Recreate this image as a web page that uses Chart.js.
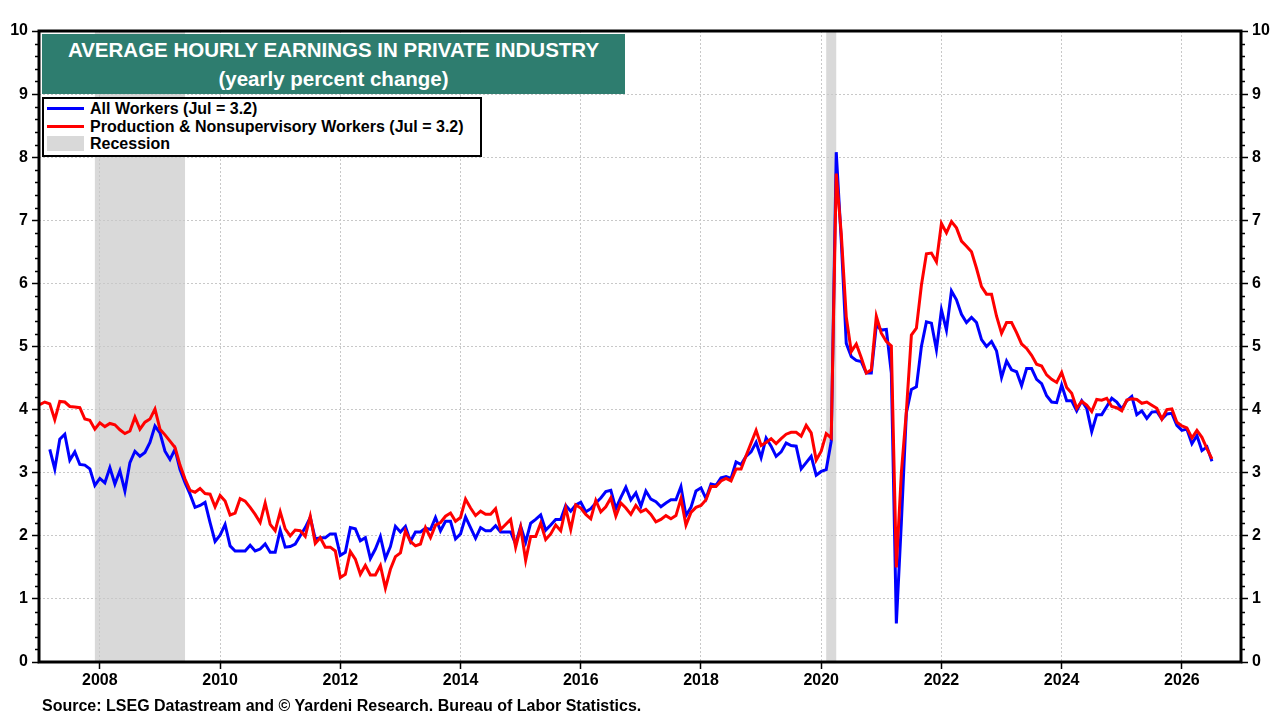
<!DOCTYPE html>
<html>
<head>
<meta charset="utf-8">
<script src="https://cdn.jsdelivr.net/npm/chart.js@4.4.1/dist/chart.umd.min.js"></script>
<style>
  html, body { margin: 0; padding: 0; background: #fff; }
  #wrap { position: relative; width: 1280px; height: 720px; font-family: 'Liberation Sans', Arial, sans-serif; }
  #chart { position: absolute; left: 0; top: 0; }
  .title { position: absolute; left: 42px; top: 34px; width: 583px; height: 60px; box-sizing: border-box;
    padding-top: 1px; background: #2e7d6f; color: #fff; font-weight: bold; font-size: 20.5px;
    line-height: 29px; text-align: center; }
  .legend { position: absolute; left: 42px; top: 97px; width: 440px; height: 60px; box-sizing: border-box;
    padding-top: 1px; background: #fff; border: 2px solid #000; font-weight: bold; font-size: 16px; color: #000; }
  .legend .row { position: relative; height: 17.5px; line-height: 17.5px; padding-left: 46px; white-space: nowrap; }
  .legend .line { position: absolute; left: 3px; top: 7px; width: 37px; height: 3px; }
  .legend .box { position: absolute; left: 3px; top: 1px; width: 37px; height: 15px; background: #d9d9d9; }
  .source { position: absolute; left: 42px; top: 697px; font-weight: bold; font-size: 16px; line-height: 18px; color: #000; white-space: nowrap; }
</style>
</head>
<body>
<div id="wrap">
  <canvas id="chart" width="1280" height="720"></canvas>
  <div class="title">AVERAGE HOURLY EARNINGS IN PRIVATE INDUSTRY<br>(yearly percent change)</div>
  <div class="legend">
    <div class="row"><span class="line" style="background:#0000ff"></span>All Workers (Jul = 3.2)</div>
    <div class="row"><span class="line" style="background:#ff0000"></span>Production &amp; Nonsupervisory Workers (Jul = 3.2)</div>
    <div class="row"><span class="box"></span>Recession</div>
  </div>
  <div class="source">Source: LSEG Datastream and © Yardeni Research. Bureau of Labor Statistics.</div>
</div>
<script>
// monthly data, Jan 2007 .. Jul 2026
const startYear = 2007;

const allWorkers = [
  null, null, 3.37, 3.06, 3.53, 3.61, 3.20, 3.33, 3.13, 3.12, 3.06, 2.80,
  2.91, 2.84, 3.08, 2.82, 3.03, 2.71, 3.16, 3.34, 3.26, 3.32, 3.48, 3.74,
  3.63, 3.34, 3.21, 3.37, 3.05, 2.84, 2.66, 2.45, 2.48, 2.53, 2.21, 1.91,
  2.01, 2.18, 1.84, 1.76, 1.76, 1.76, 1.85, 1.76, 1.79, 1.87, 1.74, 1.74,
  2.09, 1.82, 1.83, 1.87, 2.00, 2.13, 2.29, 1.95, 1.97, 1.97, 2.03, 2.03,
  1.69, 1.74, 2.13, 2.11, 1.92, 1.97, 1.64, 1.79, 1.99, 1.64, 1.83, 2.15,
  2.06, 2.15, 1.91, 2.06, 2.06, 2.12, 2.10, 2.29, 2.08, 2.23, 2.23, 1.95,
  2.03, 2.30, 2.13, 1.96, 2.13, 2.08, 2.08, 2.16, 2.06, 2.06, 2.06, 1.87,
  2.15, 1.90, 2.20, 2.26, 2.33, 2.09, 2.17, 2.26, 2.26, 2.48, 2.39, 2.49,
  2.53, 2.38, 2.43, 2.52, 2.60, 2.70, 2.72, 2.43, 2.61, 2.77, 2.57, 2.68,
  2.47, 2.71, 2.58, 2.54, 2.46, 2.52, 2.57, 2.57, 2.78, 2.32, 2.45, 2.71,
  2.76, 2.59, 2.82, 2.80, 2.92, 2.94, 2.91, 3.17, 3.13, 3.26, 3.33, 3.48,
  3.24, 3.55, 3.42, 3.26, 3.33, 3.47, 3.43, 3.42, 3.06, 3.16, 3.26, 2.96,
  3.02, 3.05, 3.50, 8.08, 6.68, 5.05, 4.84, 4.78, 4.76, 4.58, 4.58, 5.34,
  5.26, 5.27, 4.58, 0.61, 2.21, 3.95, 4.32, 4.36, 5.00, 5.39, 5.37, 4.95,
  5.58, 5.26, 5.88, 5.74, 5.51, 5.38, 5.46, 5.38, 5.11, 5.00, 5.08, 4.93,
  4.51, 4.77, 4.63, 4.60, 4.38, 4.65, 4.65, 4.48, 4.41, 4.22, 4.12, 4.11,
  4.39, 4.14, 4.14, 3.98, 4.14, 4.02, 3.65, 3.92, 3.92, 4.05, 4.18, 4.12,
  4.01, 4.14, 4.21, 3.92, 3.98, 3.86, 3.96, 3.97, 3.85, 3.93, 3.94, 3.75,
  3.67, 3.69, 3.46, 3.59, 3.35, 3.41, 3.18
];

const prodWorkers = [
  4.08, 4.12, 4.09, 3.84, 4.13, 4.12, 4.05, 4.04, 4.03, 3.85, 3.83, 3.69,
  3.79, 3.73, 3.78, 3.76, 3.68, 3.62, 3.66, 3.88, 3.69, 3.80, 3.85, 4.01,
  3.69, 3.60, 3.50, 3.40, 3.12, 2.90, 2.72, 2.69, 2.75, 2.67, 2.66, 2.46,
  2.64, 2.55, 2.33, 2.36, 2.59, 2.55, 2.45, 2.34, 2.21, 2.52, 2.18, 2.08,
  2.38, 2.11, 2.00, 2.09, 2.08, 1.99, 2.31, 1.88, 1.97, 1.82, 1.82, 1.76,
  1.34, 1.39, 1.75, 1.63, 1.39, 1.53, 1.38, 1.38, 1.53, 1.17, 1.47, 1.67,
  1.73, 2.08, 1.91, 1.84, 1.87, 2.13, 1.97, 2.17, 2.21, 2.31, 2.36, 2.23,
  2.29, 2.58, 2.44, 2.32, 2.39, 2.34, 2.34, 2.43, 2.10, 2.18, 2.26, 1.82,
  2.13, 1.61, 1.99, 1.99, 2.20, 1.94, 2.03, 2.17, 2.08, 2.44, 2.10, 2.49,
  2.44, 2.34, 2.27, 2.56, 2.38, 2.46, 2.60, 2.31, 2.52, 2.44, 2.34, 2.48,
  2.38, 2.42, 2.34, 2.22, 2.26, 2.32, 2.27, 2.32, 2.59, 2.17, 2.37, 2.45,
  2.48, 2.57, 2.78, 2.78, 2.87, 2.91, 2.87, 3.06, 3.06, 3.27, 3.47, 3.67,
  3.43, 3.48, 3.54, 3.46, 3.54, 3.61, 3.64, 3.64, 3.58, 3.75, 3.63, 3.20,
  3.34, 3.62, 3.55, 7.74, 6.79, 5.47, 4.92, 5.04, 4.82, 4.58, 4.63, 5.48,
  5.21, 5.08, 5.01, 1.50, 3.00, 3.97, 5.18, 5.29, 5.97, 6.47, 6.48, 6.34,
  6.95, 6.80, 6.98, 6.88, 6.67, 6.59, 6.50, 6.24, 5.95, 5.83, 5.83, 5.48,
  5.21, 5.38, 5.38, 5.22, 5.04, 4.97, 4.86, 4.72, 4.69, 4.55, 4.48, 4.43,
  4.59, 4.35, 4.26, 4.02, 4.13, 4.07, 3.97, 4.16, 4.15, 4.18, 4.05, 4.03,
  3.98, 4.15, 4.17, 4.16, 4.10, 4.12, 4.07, 4.02, 3.85, 4.00, 4.01, 3.80,
  3.74, 3.71, 3.55, 3.67, 3.56, 3.38, 3.22
];

const yearTicks = ['2008', '2010', '2012', '2014', '2016', '2018', '2020', '2022', '2024', '2026'];
const yTicks = [0, 1, 2, 3, 4, 5, 6, 7, 8, 9, 10];

// NBER recessions (first and last month)
const recessionStart = ['2007-12', '2020-02'];
const recessionEnd = ['2009-06', '2020-04'];

// month string -> month index since Jan of startYear
function monthIndex(s) {
  const [y, m] = s.split('-').map(Number);
  return (y - startYear) * 12 + (m - 1);
}

Chart.defaults.font.family = "'Liberation Sans', Arial, sans-serif";
Chart.defaults.color = '#000';

// grey shading behind everything
const recessionPlugin = {
  id: 'recessionPlugin',
  beforeDraw: function(chart) {
    const ctx = chart.ctx;
    const area = chart.chartArea;
    const x = chart.scales.x;
    ctx.save();
    ctx.fillStyle = '#d9d9d9';
    recessionStart.forEach(function(s, i) {
      const x1 = x.getPixelForValue(monthIndex(s));
      const x2 = x.getPixelForValue(monthIndex(recessionEnd[i]));
      ctx.fillRect(x1, area.top, x2 - x1, area.bottom - area.top);
    });
    ctx.restore();
  }
};

// thick black frame + short minor ticks on both value axes
const framePlugin = {
  id: 'framePlugin',
  afterDatasetsDraw: function(chart) {
    const ctx = chart.ctx;
    const a = chart.chartArea;
    const y = chart.scales.y;
    ctx.save();
    ctx.strokeStyle = '#000';
    ctx.lineWidth = 1.5;
    ctx.beginPath();
    for (let v = 0.2; v < 10; v += 0.2) {
      if (Math.abs(v - Math.round(v)) < 1e-6) continue;
      const py = Math.round(y.getPixelForValue(v)) + 0.5;
      ctx.moveTo(a.left - 4, py);
      ctx.lineTo(a.left, py);
      ctx.moveTo(a.right, py);
      ctx.lineTo(a.right + 4, py);
    }
    ctx.stroke();
    ctx.lineWidth = 3;
    ctx.strokeRect(a.left, a.top, a.right - a.left, a.bottom - a.top);
    ctx.restore();
  }
};

const gridStyle = {
  color: '#c8c8c8',
  lineWidth: 1,
  tickColor: '#000',
  tickLength: 7,
  tickWidth: 1.5
};

const tickFont = { size: 16, weight: 'bold' };

const chart = new Chart(document.getElementById('chart').getContext('2d'), {
  type: 'line',
  data: {
    datasets: [{
      label: 'All Workers (Jul = 3.2)',
      data: allWorkers.map((v, i) => ({ x: i, y: v })),
      borderColor: '#0000ff',
      borderWidth: 3,
      pointRadius: 0,
      tension: 0,
      order: 1
    }, {
      label: 'Production & Nonsupervisory Workers (Jul = 3.2)',
      data: prodWorkers.map((v, i) => ({ x: i, y: v })),
      borderColor: '#ff0000',
      borderWidth: 3,
      pointRadius: 0,
      tension: 0,
      order: 0
    }]
  },
  options: {
    responsive: false,
    animation: false,
    layout: { padding: { top: 31, left: 0, right: 0, bottom: 0 } },
    plugins: {
      legend: { display: false },
      tooltip: { enabled: false }
    },
    scales: {
      x: {
        type: 'linear',
        min: -0.15,
        max: 239.8,
        afterBuildTicks: function(scale) {
          scale.ticks = yearTicks.map(t => ({ value: monthIndex(t + '-01') }));
        },
        afterFit: function(scale) { scale.height = 58; },
        ticks: {
          font: tickFont,
          padding: 2,
          maxRotation: 0,
          autoSkip: false,
          callback: function(v) { return String(startYear + Math.round(v / 12)); }
        },
        grid: gridStyle,
        border: { display: false, dash: [2, 2] }
      },
      y: {
        position: 'left',
        min: 0,
        max: 10,
        afterBuildTicks: function(scale) {
          scale.ticks = yTicks.map(v => ({ value: v }));
        },
        afterFit: function(scale) { scale.width = 39; },
        ticks: { font: tickFont, padding: 4 },
        grid: gridStyle,
        border: { display: false, dash: [2, 2] }
      },
      y2: {
        position: 'right',
        min: 0,
        max: 10,
        afterBuildTicks: function(scale) {
          scale.ticks = yTicks.map(v => ({ value: v }));
        },
        afterFit: function(scale) { scale.width = 39; },
        ticks: { font: tickFont, padding: 4 },
        grid: Object.assign({}, gridStyle, { drawOnChartArea: false }),
        border: { display: false }
      }
    }
  },
  plugins: [recessionPlugin, framePlugin]
});
</script>
</body>
</html>
